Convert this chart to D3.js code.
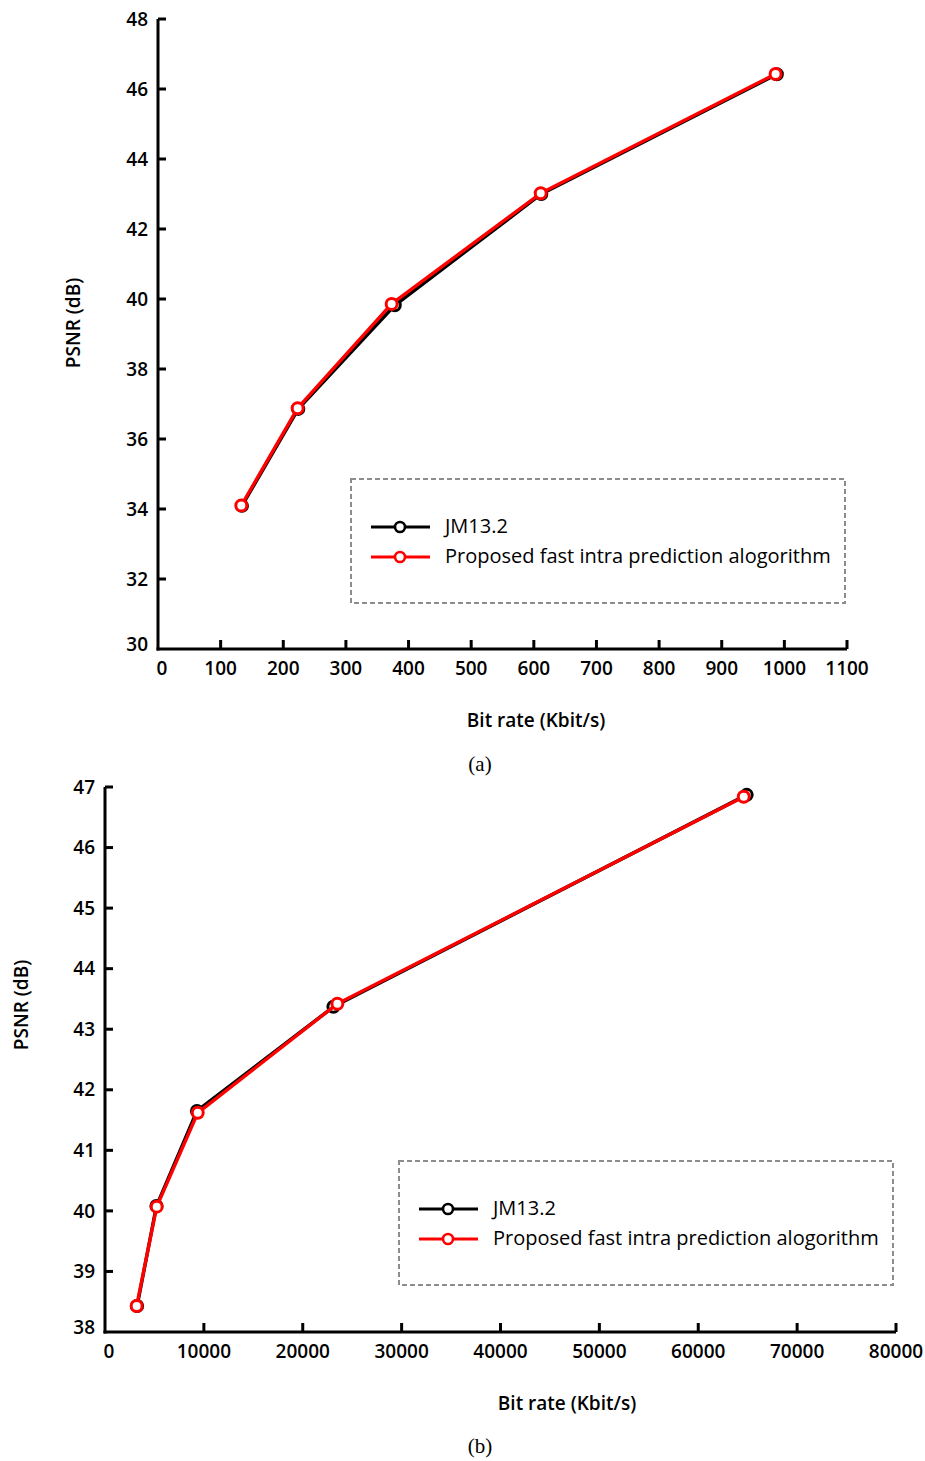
<!DOCTYPE html>
<html>
<head>
<meta charset="utf-8">
<script src="https://cdn.jsdelivr.net/npm/d3@7"></script>
<style>
  html, body { margin: 0; padding: 0; background: #fff; }
  svg { display: block; }
  text { font-family: "Open Sans", "Noto Sans", sans-serif; fill: #000; }
</style>
</head>
<body>
<svg id="chart" width="925" height="1461"></svg>
<script>
// ---------- Data (a) ----------
const aSeriesNames = ["JM13.2", "Proposed fast intra prediction alogorithm"];
const aJMRate   = [134, 224, 378, 612, 988];
const aJMPsnr   = [34.09, 36.86, 39.82, 43.0, 46.42];
const aPropRate = [133, 223, 373, 611, 986];
const aPropPsnr = [34.1, 36.88, 39.86, 43.02, 46.43];
const aXTicks = [0, 100, 200, 300, 400, 500, 600, 700, 800, 900, 1000, 1100];
const aYTicks = [30, 32, 34, 36, 38, 40, 42, 44, 46, 48];

// ---------- Data (b) ----------
const bSeriesNames = ["JM13.2", "Proposed fast intra prediction alogorithm"];
const bJMRate   = [3250, 5200, 9300, 23100, 64900];
const bJMPsnr   = [38.43, 40.08, 41.65, 43.37, 46.87];
const bPropRate = [3200, 5230, 9380, 23500, 64600];
const bPropPsnr = [38.43, 40.07, 41.62, 43.42, 46.84];
const bXTicks = [0, 10000, 20000, 30000, 40000, 50000, 60000, 70000, 80000];
const bYTicks = [38, 39, 40, 41, 42, 43, 44, 45, 46, 47];

const svg = d3.select("#chart");

function drawPanel(cfg) {
  const g = svg.append("g");
  const x = d3.scaleLinear().domain(cfg.xDomain).range(cfg.xRange);
  const y = d3.scaleLinear().domain(cfg.yDomain).range(cfg.yRange);

  const axisW = 3;
  g.append("line")
    .attr("x1", cfg.xRange[0]).attr("x2", cfg.xRange[0])
    .attr("y1", cfg.yRange[1]).attr("y2", cfg.yRange[0] + axisW / 2)
    .attr("stroke", "#000").attr("stroke-width", axisW);
  g.append("line")
    .attr("x1", cfg.xRange[0] - axisW / 2).attr("x2", cfg.xRange[1])
    .attr("y1", cfg.yRange[0]).attr("y2", cfg.yRange[0])
    .attr("stroke", "#000").attr("stroke-width", axisW);

  cfg.yTicks.forEach(v => {
    const yy = y(v);
    if (v !== cfg.yDomain[0]) {
      g.append("line")
        .attr("x1", cfg.xRange[0]).attr("x2", cfg.xRange[0] + 8)
        .attr("y1", yy).attr("y2", yy)
        .attr("stroke", "#000").attr("stroke-width", axisW);
    }
    g.append("text")
      .attr("x", cfg.xRange[0] - 10).attr("y", v === cfg.yDomain[0] ? yy - 5 : yy)
      .attr("dy", "0.35em")
      .attr("text-anchor", "end")
      .attr("font-size", 19).attr("font-weight", 600)
      .text(v);
  });

  cfg.xTicks.forEach(v => {
    const xx = x(v);
    if (v !== cfg.xDomain[0]) {
      g.append("line")
        .attr("x1", xx).attr("x2", xx)
        .attr("y1", cfg.yRange[0]).attr("y2", cfg.yRange[0] - 9)
        .attr("stroke", "#000").attr("stroke-width", axisW);
    }
    g.append("text")
      .attr("x", v === cfg.xDomain[0] ? xx + 4 : xx).attr("y", cfg.yRange[0] + 26)
      .attr("text-anchor", "middle")
      .attr("font-size", 19).attr("font-weight", 600)
      .text(v);
  });

  g.append("text")
    .attr("transform", `translate(${cfg.yTitlePos[0]},${cfg.yTitlePos[1]}) rotate(-90)`)
    .attr("text-anchor", "middle")
    .attr("font-size", 19).attr("font-weight", 600)
    .text("PSNR (dB)");
  g.append("text")
    .attr("x", cfg.xTitlePos[0]).attr("y", cfg.xTitlePos[1])
    .attr("text-anchor", "middle")
    .attr("font-size", 19).attr("font-weight", 600)
    .text("Bit rate (Kbit/s)");

  g.append("text")
    .attr("x", 480).attr("y", cfg.captionY)
    .attr("text-anchor", "middle")
    .style("font-family", "'Liberation Serif', 'Times New Roman', serif")
    .attr("font-size", 21)
    .text(cfg.caption);

  const line = d3.line().x(d => x(d[0])).y(d => y(d[1]));

  const series = [
    { name: cfg.names[0], color: "#000", pts: d3.zip(cfg.jmRate, cfg.jmPsnr) },
    { name: cfg.names[1], color: "#ff0000", pts: d3.zip(cfg.propRate, cfg.propPsnr) }
  ];

  series.forEach(s => {
    g.append("path")
      .datum(s.pts)
      .attr("d", line)
      .attr("fill", "none")
      .attr("stroke", s.color)
      .attr("stroke-width", 3.4)
      .attr("stroke-linejoin", "round");
    g.selectAll(null)
      .data(s.pts)
      .enter().append("circle")
      .attr("cx", d => x(d[0])).attr("cy", d => y(d[1]))
      .attr("r", 5.5)
      .attr("fill", "#fff")
      .attr("stroke", s.color)
      .attr("stroke-width", 3);
  });

  const L = cfg.legend;
  g.append("rect")
    .attr("x", L.x).attr("y", L.y).attr("width", L.w).attr("height", L.h)
    .attr("fill", "none")
    .attr("stroke", "#8c8c8c")
    .attr("stroke-width", 2)
    .attr("stroke-dasharray", "5,3");
  series.forEach((s, i) => {
    const ly = L.y + 48 + i * 30;
    g.append("line")
      .attr("x1", L.x + 20).attr("x2", L.x + 79)
      .attr("y1", ly).attr("y2", ly)
      .attr("stroke", s.color).attr("stroke-width", 3);
    g.append("circle")
      .attr("cx", L.x + 49).attr("cy", ly).attr("r", 5)
      .attr("fill", "#fff").attr("stroke", s.color).attr("stroke-width", 2.6);
    g.append("text")
      .attr("x", L.x + 94).attr("y", ly - 1).attr("dy", "0.35em")
      .attr("font-size", 20).attr("font-weight", 500)
      .text(s.name);
  });
}

drawPanel({
  xDomain: [0, 1100], xRange: [158, 847],
  yDomain: [30, 48], yRange: [649, 19],
  xTicks: aXTicks, yTicks: aYTicks,
  names: aSeriesNames,
  jmRate: aJMRate, jmPsnr: aJMPsnr, propRate: aPropRate, propPsnr: aPropPsnr,
  yTitlePos: [80, 323], xTitlePos: [536, 727],
  caption: "(a)", captionY: 771,
  legend: { x: 351, y: 479, w: 494, h: 124 }
});

drawPanel({
  xDomain: [0, 80000], xRange: [105, 896],
  yDomain: [38, 47], yRange: [1332, 787],
  xTicks: bXTicks, yTicks: bYTicks,
  names: bSeriesNames,
  jmRate: bJMRate, jmPsnr: bJMPsnr, propRate: bPropRate, propPsnr: bPropPsnr,
  yTitlePos: [28, 1005], xTitlePos: [567, 1410],
  caption: "(b)", captionY: 1453,
  legend: { x: 399, y: 1161, w: 494, h: 124 }
});
</script>
</body>
</html>
